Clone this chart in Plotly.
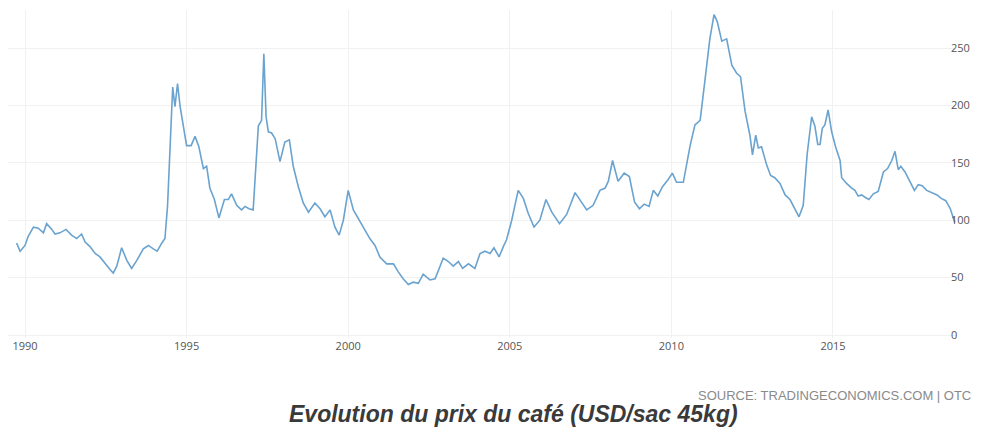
import plotly.graph_objects as go

# Decimal years and coffee price, USD per 45kg bag
years = [
    1989.74, 1989.85, 1990.00, 1990.10, 1990.26, 1990.41, 1990.57, 1990.67, 1990.83, 1990.93,
    1991.08, 1991.27, 1991.44, 1991.60, 1991.75, 1991.86, 1992.01, 1992.17, 1992.32, 1992.48,
    1992.63, 1992.73, 1992.84, 1992.99, 1993.15, 1993.30, 1993.46, 1993.66, 1993.82, 1993.97,
    1994.09, 1994.23, 1994.33, 1994.41, 1994.52, 1994.57, 1994.64, 1994.72, 1994.80, 1994.90,
    1995.00, 1995.14, 1995.26, 1995.38, 1995.52, 1995.62, 1995.72, 1995.86, 1996.00, 1996.17,
    1996.29, 1996.39, 1996.55, 1996.70, 1996.81, 1996.93, 1997.06, 1997.22, 1997.32, 1997.39,
    1997.46, 1997.53, 1997.63, 1997.74, 1997.89, 1998.04, 1998.18, 1998.30, 1998.46, 1998.61,
    1998.77, 1998.97, 1999.13, 1999.28, 1999.44, 1999.59, 1999.72, 1999.85, 2000.00, 2000.16,
    2000.37, 2000.52, 2000.67, 2000.83, 2000.98, 2001.19, 2001.40, 2001.55, 2001.70, 2001.86,
    2002.01, 2002.17, 2002.32, 2002.53, 2002.69, 2002.94, 2003.10, 2003.25, 2003.41, 2003.54,
    2003.72, 2003.92, 2004.08, 2004.23, 2004.39, 2004.51, 2004.67, 2004.80, 2004.90, 2005.06,
    2005.26, 2005.42, 2005.57, 2005.75, 2005.93, 2006.12, 2006.30, 2006.54, 2006.76, 2007.02,
    2007.22, 2007.38, 2007.58, 2007.79, 2007.95, 2008.05, 2008.18, 2008.35, 2008.54, 2008.70,
    2008.86, 2009.01, 2009.16, 2009.31, 2009.44, 2009.58, 2009.72, 2009.89, 2010.03, 2010.16,
    2010.37, 2010.58, 2010.73, 2010.89, 2011.04, 2011.19, 2011.32, 2011.42, 2011.56, 2011.71,
    2011.87, 2012.02, 2012.14, 2012.28, 2012.43, 2012.51, 2012.61, 2012.69, 2012.79, 2012.95,
    2013.07, 2013.20, 2013.36, 2013.52, 2013.67, 2013.82, 2013.95, 2014.08, 2014.20, 2014.34,
    2014.44, 2014.53, 2014.60, 2014.67, 2014.75, 2014.85, 2014.96, 2015.08, 2015.22, 2015.27,
    2015.42, 2015.58, 2015.68, 2015.78, 2015.89, 2015.99, 2016.11, 2016.25, 2016.40, 2016.56,
    2016.69, 2016.82, 2016.92, 2017.02, 2017.10, 2017.23, 2017.38, 2017.52, 2017.64, 2017.76,
    2017.90, 2018.05, 2018.22, 2018.35, 2018.49, 2018.63, 2018.77,
]
prices = [
    80, 73, 78, 86, 94, 93, 89, 97, 92, 88,
    89, 92, 87, 84, 88, 81, 77, 71, 68, 62,
    57, 54, 60, 76, 65, 58, 65, 75, 78, 75,
    73, 80, 84, 112, 184, 216, 199, 219, 199, 181,
    165, 165, 173, 164, 145, 147, 128, 118, 102, 118,
    118, 123, 113, 109, 112, 110, 109, 182, 187, 245,
    190, 177, 176, 171, 151, 168, 170, 147, 129, 115,
    107, 115, 110, 103, 109, 94, 87, 100, 126, 109,
    99, 92, 84, 78, 68, 62, 62, 55, 49, 44,
    46, 45, 53, 48, 49, 67, 64, 60, 64, 58,
    62, 58, 71, 73, 71, 76, 68, 77, 83, 100,
    126, 119, 106, 94, 100, 118, 107, 97, 105, 124,
    115, 109, 113, 126, 128, 134, 152, 134, 141, 138,
    116, 110, 114, 112, 126, 121, 129, 135, 141, 133,
    133, 165, 183, 187, 222, 258, 279, 273, 256, 258,
    235, 228, 225, 195, 174, 157, 174, 163, 164, 148,
    139, 137, 132, 122, 118, 110, 103, 113, 157, 190,
    182, 166, 166, 180, 183, 196, 177, 164, 152, 137,
    132, 128, 126, 121, 122, 120, 118, 123, 125, 142,
    145, 152, 160, 144, 147, 142, 134, 126, 131, 130,
    126, 124, 122, 119, 117, 110, 98,
]

x_ticks = [1990, 1995, 2000, 2005, 2010, 2015]
x_tick_labels = ["1990", "1995", "2000", "2005", "2010", "2015"]
y_ticks = [0, 50, 100, 150, 200, 250]
y_tick_labels = ["0", "50", "100", "150", "200", "250"]

title_text = "Evolution du prix du café (USD/sac 45kg)"
source_text = "SOURCE: TRADINGECONOMICS.COM | OTC"

fig = go.Figure()
fig.add_trace(go.Scatter(
    x=years, y=prices, mode="lines",
    line=dict(color="#6aa3cf", width=1.6),
    hoverinfo="skip", showlegend=False,
))

# page body adds an 8px offset; keep the figure inside the window without scrollbars
W, H = 975, 419
PLOT_W, PLOT_H = 948, 328
fig.update_layout(
    width=W, height=H,
    margin=dict(l=0, r=W - PLOT_W, t=2, b=H - 2 - PLOT_H, autoexpand=False),
    paper_bgcolor="white", plot_bgcolor="white",
    font=dict(family="Open Sans", color="#555555"),
    xaxis=dict(
        range=[1989.474, 2018.807],
        tickvals=x_ticks, ticktext=x_tick_labels,
        showgrid=True, gridcolor="#f1f1f1", gridwidth=1,
        zeroline=False, showline=False, ticks="",
        tickfont=dict(size=11, color="#555555"),
    ),
    yaxis=dict(
        range=[-2.6, 283.1], side="right",
        anchor="free", position=942 / PLOT_W,
        tickvals=y_ticks, ticktext=y_tick_labels,
        showgrid=True, gridcolor="#f1f1f1", gridwidth=1,
        zeroline=False, showline=False, ticks="",
        tickfont=dict(size=11, color="#555555"),
    ),
    annotations=[
        dict(text=source_text, xref="paper", yref="paper",
             x=965 / PLOT_W, y=-(387 - 330) / PLOT_H, xanchor="right", yanchor="middle",
             showarrow=False,
             font=dict(family="Liberation Sans", size=13, color="#8a8a8a")),
        dict(text="<b><i>" + title_text + "</i></b>", xref="paper", yref="paper",
             x=505 / PLOT_W, y=-(406 - 330) / PLOT_H, xanchor="center", yanchor="middle",
             showarrow=False,
             font=dict(family="Liberation Sans", size=23, color="#3a3a3a")),
    ],
)

fig.write_html("out.html")
